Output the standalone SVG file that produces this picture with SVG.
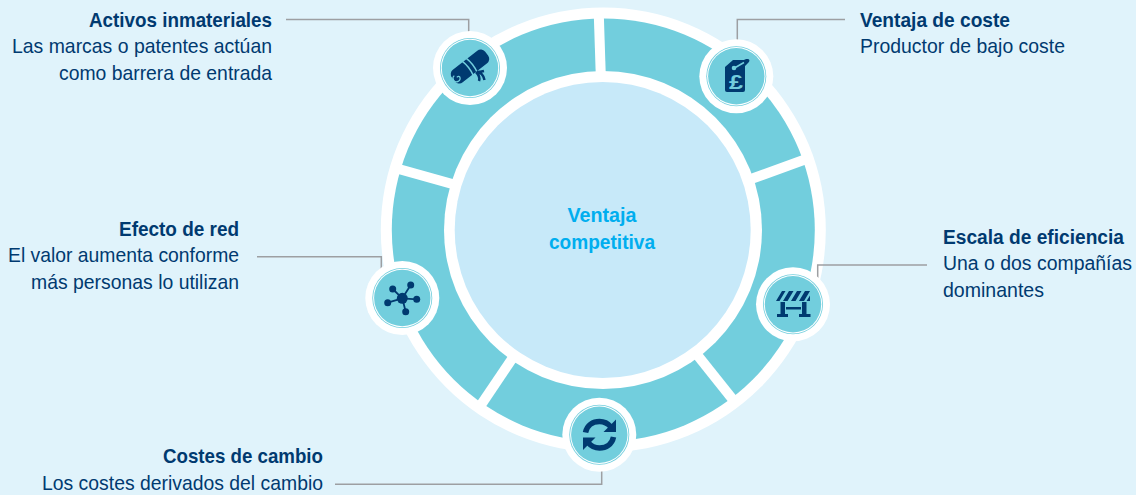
<svg xmlns="http://www.w3.org/2000/svg" width="1136" height="495" viewBox="0 0 1136 495">
<style>
text{font-family:"Liberation Sans",Arial,sans-serif;font-size:21px;fill:#003a70}
.b{font-weight:700}
.c{font-weight:700;fill:#00aeef;text-anchor:middle}
.s{font-size:19.5px}
.lead{fill:none;stroke:#9d9fa2;stroke-width:1.5}
.spoke{stroke:#fff;stroke-width:10;fill:none}
.ic{fill:#003a70}
.icl{fill:none;stroke:#003a70}
.hl{fill:none;stroke:#72cedd}
</style>
<defs>
<g id="badge">
<circle r="37" fill="#fff"/>
<circle r="30" fill="#72cedd"/>
<circle r="29.2" fill="#fff"/>
<circle r="28.2" fill="#72cedd"/>
</g>
</defs>
<rect width="1136" height="495" fill="#e0f3fb"/>
<g id="ring">
<circle cx="603.3" cy="230" r="222.5" fill="#fff"/>
<circle cx="603.3" cy="230" r="211.5" fill="#72cedd"/>
<line class="spoke" x1="598.8" y1="15" x2="600.8" y2="76"/>
<line class="spoke" x1="396" y1="168.2" x2="455" y2="184.8"/>
<line class="spoke" x1="807" y1="158.8" x2="749" y2="179.8"/>
<line class="spoke" x1="480" y1="406.4" x2="514.3" y2="355.5"/>
<line class="spoke" x1="733.7" y1="400.6" x2="695.8" y2="353.2"/>
<circle cx="603" cy="230" r="159" fill="#fff"/>
<circle cx="602.7" cy="230" r="148" fill="#c7e9f9"/>
</g>
<g id="connectors">
<path class="lead" d="M286 19.5H468.7V33"/>
<path class="lead" d="M845 19.5H737.3V41"/>
<path class="lead" d="M927 265H817.7V279"/>
<path class="lead" d="M335 484.3H601.7V471"/>
<path class="lead" d="M257 256.7H381.3V270"/>
</g>
<g id="centre">
<text class="c" x="602" y="222" textLength="69" lengthAdjust="spacingAndGlyphs">Ventaja</text>
<text class="c" x="602" y="249" textLength="106" lengthAdjust="spacingAndGlyphs">competitiva</text>
</g>
<g id="activos-inmateriales">
<use href="#badge" x="470" y="68"/>
<g transform="translate(470 66.5) rotate(-38)">
<rect class="ic" x="-21" y="-8" width="42" height="16" rx="5.5"/>
<path d="M-3 -9.5Q-0.500 0 -3 9.5M2 -9.5Q4.500 0 2 9.5" fill="none" stroke="#72cedd" stroke-width="1.5"/>
<path class="hl" stroke-width="1.2" d="M-18 -2.500a3.500 3.500 0 1 0 3.500 4.500a1.800 1.800 0 0 0 -2.500 -1.500"/>
</g>
<path class="icl" stroke-width="2.500" d="M476 72c3 3 4 6 3 9M477 72c4 1 6 2 7.500 8M477 72c3 0 5-0.500 7-1"/>
<text class="b" x="89" y="27" textLength="183" lengthAdjust="spacingAndGlyphs">Activos inmateriales</text>
<text x="12" y="53" textLength="260" lengthAdjust="spacingAndGlyphs">Las marcas o patentes actúan</text>
<text x="59" y="80" textLength="213" lengthAdjust="spacingAndGlyphs">como barrera de entrada</text>
</g>
<g id="ventaja-de-coste">
<use href="#badge" x="736.300" y="76.300"/>
<path class="ic" d="M733 60H745V90a2 2 0 0 1-2 2H727a2 2 0 0 1-2-2V67Z"/>
<path class="ic" d="M735 64L745 59.500c4-1.500 6 1 3 3.500L742 69Z"/>
<path d="M734.500 68L744 62.500" fill="none" stroke="#72cedd" stroke-width="1.600"/>
<circle cx="734" cy="68" r="2.300" fill="#72cedd"/>
<text x="729" y="89" style="font-size:21px;font-weight:700;fill:#72cedd" textLength="14" lengthAdjust="spacingAndGlyphs">£</text>
<text class="b" x="860" y="27" textLength="150" lengthAdjust="spacingAndGlyphs">Ventaja de coste</text>
<text x="860" y="53" textLength="205" lengthAdjust="spacingAndGlyphs">Productor de bajo coste</text>
</g>
<g id="escala-de-eficiencia">
<use href="#badge" x="793" y="304.300"/>
<path class="ic" d="M776 301L782 291H785.500L779.500 301ZM783 301L789 291H793.500L787.500 301ZM791 301L797 291H801.500L795.500 301ZM799 301L805 291H810L804 301ZM806.500 301L810 295.500V301Z"/>
<path class="ic" d="M780.500 302H785V314H788V317H777V314H780.500ZM802 302H806.500V314H810.500V317H799V314H802ZM786 307H801V309.500H786Z"/>
<text class="b s" x="943" y="244" textLength="181" lengthAdjust="spacingAndGlyphs">Escala de eficiencia</text>
<text class="s" x="943" y="270" textLength="189" lengthAdjust="spacingAndGlyphs">Una o dos compañías</text>
<text x="943" y="297" textLength="101" lengthAdjust="spacingAndGlyphs">dominantes</text>
</g>
<g id="costes-de-cambio">
<use href="#badge" x="599.300" y="434.700"/>
<path class="icl" stroke-width="5.500" d="M585.500 432.500C587 425 593 421.500 599.500 421.500C604 421.500 608 423.500 611 427"/>
<path class="ic" d="M616 419.500V432H603.500Z"/>
<path class="icl" stroke-width="5.500" d="M613.500 437C612 444.500 606 448 599.500 448C595 448 591 446 588 442.500"/>
<path class="ic" d="M583 450V437.500H595.500Z"/>
<text class="b" x="163" y="463" textLength="160" lengthAdjust="spacingAndGlyphs">Costes de cambio</text>
<text x="42" y="490" textLength="281" lengthAdjust="spacingAndGlyphs">Los costes derivados del cambio</text>
</g>
<g id="efecto-de-red">
<use href="#badge" x="402.300" y="298"/>
<path class="icl" stroke-width="1.800" d="M402.300 298.300L392.700 289M402.300 298.300L410.700 285M402.300 298.300L416.700 299.300M402.300 298.300L405.700 311.700M402.300 298.300L387.700 302.700"/>
<circle class="ic" cx="402.300" cy="298.300" r="5.500"/>
<circle class="ic" cx="392.700" cy="289" r="3.500"/>
<circle class="ic" cx="410.700" cy="285" r="3.500"/>
<circle class="ic" cx="416.700" cy="299.300" r="3.500"/>
<circle class="ic" cx="405.700" cy="311.700" r="3.500"/>
<circle class="ic" cx="387.700" cy="302.700" r="3.500"/>
<text class="b" x="119" y="236" textLength="120" lengthAdjust="spacingAndGlyphs">Efecto de red</text>
<text x="8" y="262" textLength="231" lengthAdjust="spacingAndGlyphs">El valor aumenta conforme</text>
<text x="31" y="289" textLength="208" lengthAdjust="spacingAndGlyphs">más personas lo utilizan</text>
</g>
</svg>
